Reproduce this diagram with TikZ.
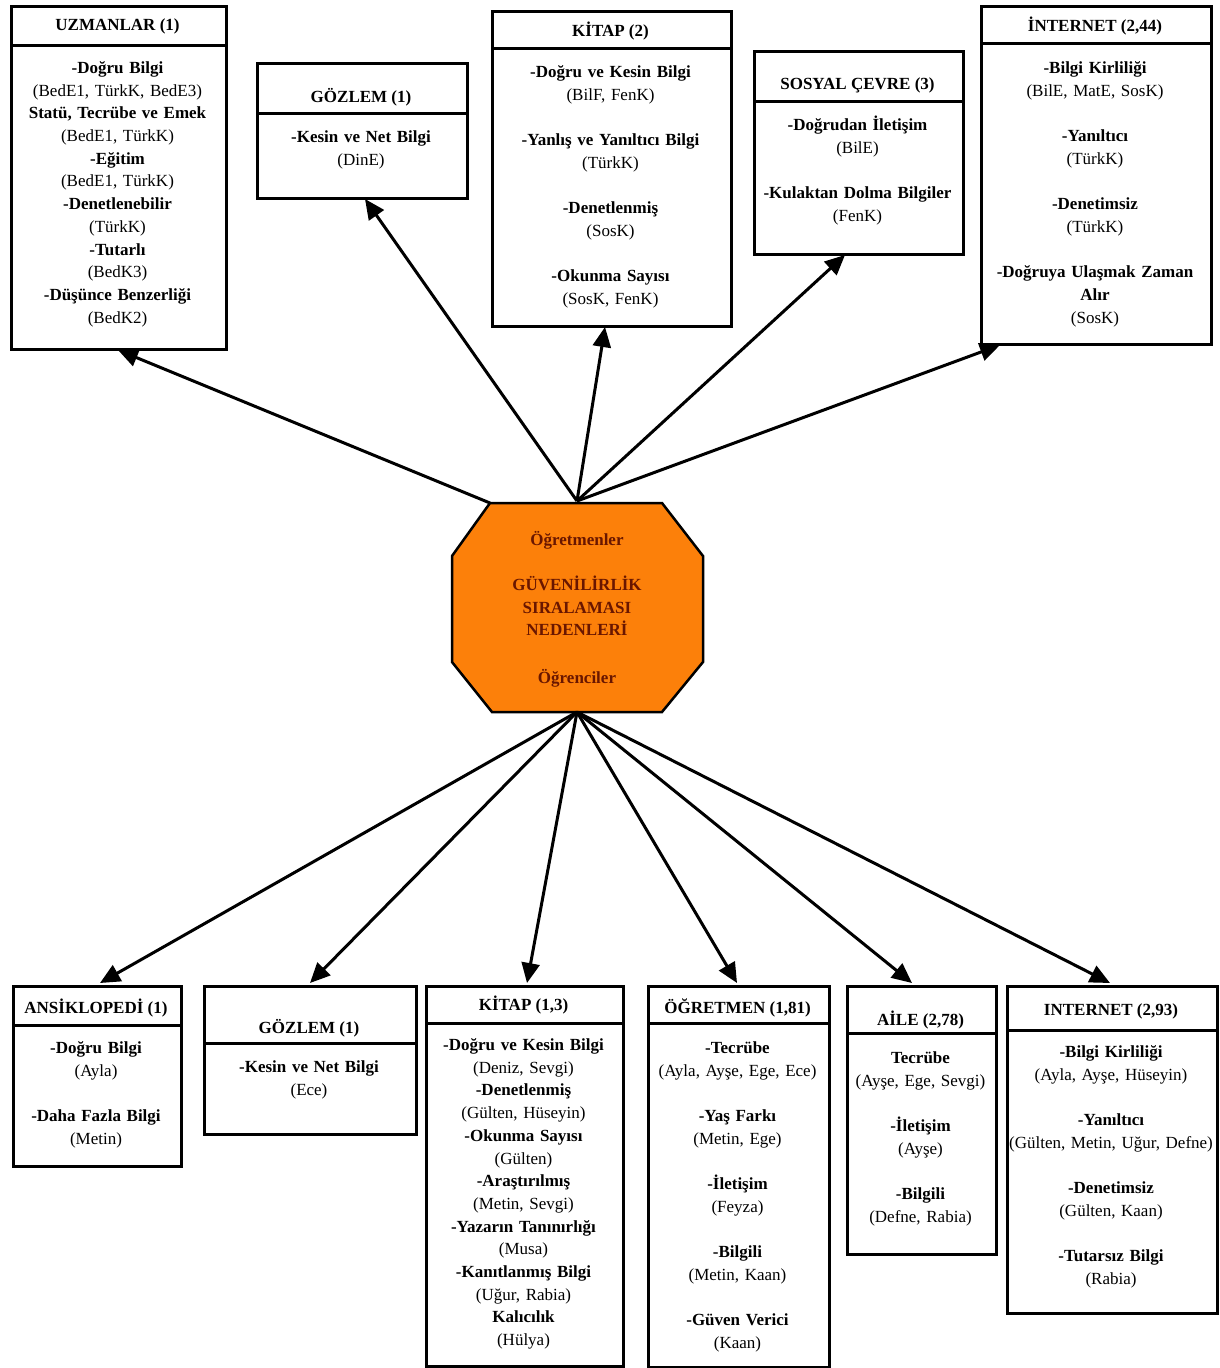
\documentclass[tikz,border=0pt]{standalone}
\usepackage{fontspec}
\setmainfont{Liberation Serif}
\usetikzlibrary{arrows.meta}
\definecolor{octorange}{RGB}{252,128,10}
\definecolor{octtext}{RGB}{105,22,0}
\newcommand{\tl}[1]{\textbf{#1}}
\frenchspacing
\begin{document}
\begin{tikzpicture}[x=1pt,y=-1pt,
  frame/.style={draw, line width=3pt, inner sep=0pt, anchor=north west},
  divider/.style={line width=3pt},
  hdr/.style={font=\fontsize{17}{22.7}\selectfont\bfseries, inner sep=0pt},
  body/.style={font=\fontsize{17}{22.7}\selectfont, align=center, inner sep=0pt, anchor=north},
  conn/.style={line width=3pt, -{Triangle[length=20pt,width=18pt]}},
  octo/.style={draw, line width=2.5pt, fill=octorange},
  ctext/.style={font=\fontsize{17}{22.7}\selectfont\bfseries, text=octtext, align=center, inner sep=0pt, anchor=north}
]
\useasboundingbox (0,0) rectangle (1219,1368);
\fill[white] (0,0) rectangle (1219,1368);

% ---------- top boxes ----------
\node[frame, minimum width=215pt, minimum height=343pt] (U) at (10,5) {};
\draw[divider] (10,45) -- (225,45);
\node[hdr] (Uh) at (117.5,26) {UZMANLAR (1)};
\node[body, text width=207pt] (Ub) at (117.5,57.4) {\strut\tl{-Doğru Bilgi}\\(BedE1, TürkK, BedE3)\\\tl{Statü, Tecrübe ve Emek}\\(BedE1, TürkK)\\\tl{-Eğitim}\\(BedE1, TürkK)\\\tl{-Denetlenebilir}\\(TürkK)\\\tl{-Tutarlı}\\(BedK3)\\\tl{-Düşünce Benzerliği}\\(BedK2)};

\node[frame, minimum width=210pt, minimum height=135pt] (G1) at (256,62) {};
\draw[divider] (256,113) -- (466,113);
\node[hdr] (G1h) at (361,97) {GÖZLEM (1)};
\node[body, text width=202pt] (G1b) at (361,126.4) {\strut\tl{-Kesin ve Net Bilgi}\\(DinE)};

\node[frame, minimum width=239pt, minimum height=315pt] (K1) at (491,10) {};
\draw[divider] (491,48) -- (730,48);
\node[hdr] (K1h) at (610.5,31) {KİTAP (2)};
\node[body, text width=231pt] (K1b) at (610.5,61.4) {\strut\tl{-Doğru ve Kesin Bilgi}\\(BilF, FenK)\\[22.7pt]\tl{-Yanlış ve Yanıltıcı Bilgi}\\(TürkK)\\[22.7pt]\tl{-Denetlenmiş}\\(SosK)\\[22.7pt]\tl{-Okunma Sayısı}\\(SosK, FenK)};

\node[frame, minimum width=209pt, minimum height=203pt] (S) at (753,50) {};
\draw[divider] (753,101) -- (962,101);
\node[hdr] (Sh) at (857.5,85) {SOSYAL ÇEVRE (3)};
\node[body, text width=201pt] (Sb) at (857.5,114.4) {\strut\tl{-Doğrudan İletişim}\\(BilE)\\[22.7pt]\tl{-Kulaktan Dolma Bilgiler}\\(FenK)};

\node[frame, minimum width=230pt, minimum height=338pt] (I1) at (980,5) {};
\draw[divider] (980,43) -- (1210,43);
\node[hdr] (I1h) at (1095,26) {İNTERNET (2,44)};
\node[body, text width=222pt] (I1b) at (1095,57.4) {\strut\tl{-Bilgi Kirliliği}\\(BilE, MatE, SosK)\\[22.7pt]\tl{-Yanıltıcı}\\(TürkK)\\[22.7pt]\tl{-Denetimsiz}\\(TürkK)\\[22.7pt]\tl{-Doğruya Ulaşmak Zaman}\\\tl{Alır}\\(SosK)};

% ---------- centre ----------
\draw[octo] (490,503) -- (662,503) -- (703,556) -- (703,662) -- (662,712) -- (492,712) -- (452,662) -- (452,556) -- cycle;
\node[ctext] (oc) at (577,529.4) {\strut Öğretmenler\\[22.3pt]GÜVENİLİRLİK\\SIRALAMASI\\NEDENLERİ\\[25pt]Öğrenciler};
\coordinate (otl) at (490,503);
\coordinate (ot) at (577,501);
\coordinate (ob) at (577,712);

% ---------- bottom boxes ----------
\node[frame, minimum width=168pt, minimum height=180pt] (A) at (12,985) {};
\draw[divider] (12,1025) -- (180,1025);
\node[hdr] (Ah) at (96,1008) {ANSİKLOPEDİ (1)};
\node[body, text width=160pt] (Ab) at (96,1037.4) {\strut\tl{-Doğru Bilgi}\\(Ayla)\\[22.7pt]\tl{-Daha Fazla Bilgi}\\(Metin)};

\node[frame, minimum width=212pt, minimum height=148pt] (G2) at (203,985) {};
\draw[divider] (203,1043) -- (415,1043);
\node[hdr] (G2h) at (309,1028) {GÖZLEM (1)};
\node[body, text width=204pt] (G2b) at (309,1056.4) {\strut\tl{-Kesin ve Net Bilgi}\\(Ece)};

\node[frame, minimum width=197pt, minimum height=380pt] (K2) at (425,985) {};
\draw[divider] (425,1023) -- (622,1023);
\node[hdr] (K2h) at (523.5,1005) {KİTAP (1,3)};
\node[body, text width=189pt] (K2b) at (523.5,1034.4) {\strut\tl{-Doğru ve Kesin Bilgi}\\(Deniz, Sevgi)\\\tl{-Denetlenmiş}\\(Gülten, Hüseyin)\\\tl{-Okunma Sayısı}\\(Gülten)\\\tl{-Araştırılmış}\\(Metin, Sevgi)\\\tl{-Yazarın Tanınırlığı}\\(Musa)\\\tl{-Kanıtlanmış Bilgi}\\(Uğur, Rabia)\\\tl{Kalıcılık}\\(Hülya)};

\node[frame, minimum width=181pt, minimum height=381pt] (O) at (647,985) {};
\draw[divider] (647,1023) -- (828,1023);
\node[hdr] (Oh) at (737.5,1008) {ÖĞRETMEN (1,81)};
\node[body, text width=175pt] (Ob) at (737.5,1037.4) {\strut\tl{-Tecrübe}\\(Ayla, Ayşe, Ege, Ece)\\[22.7pt]\tl{-Yaş Farkı}\\(Metin, Ege)\\[22.7pt]\tl{-İletişim}\\(Feyza)\\[22.7pt]\tl{-Bilgili}\\(Metin, Kaan)\\[22.7pt]\tl{-Güven Verici}\\(Kaan)};

\node[frame, minimum width=149pt, minimum height=268pt] (AI) at (846,985) {};
\draw[divider] (846,1033) -- (995,1033);
\node[hdr] (AIh) at (920.5,1020) {AİLE (2,78)};
\node[body, text width=143pt] (AIb) at (920.5,1047.4) {\strut\tl{Tecrübe}\\(Ayşe, Ege, Sevgi)\\[22.7pt]\tl{-İletişim}\\(Ayşe)\\[22.7pt]\tl{-Bilgili}\\(Defne, Rabia)};

\node[frame, minimum width=210pt, minimum height=327pt] (I2) at (1006,985) {};
\draw[divider] (1006,1030) -- (1216,1030);
\node[hdr] (I2h) at (1111,1011) {INTERNET (2,93)};
\node[body, text width=206pt] (I2b) at (1111,1041.4) {\strut\tl{-Bilgi Kirliliği}\\(Ayla, Ayşe, Hüseyin)\\[22.7pt]\tl{-Yanıltıcı}\\(Gülten, Metin, Uğur, Defne)\\[22.7pt]\tl{-Denetimsiz}\\(Gülten, Kaan)\\[22.7pt]\tl{-Tutarsız Bilgi}\\(Rabia)};

% ---------- arrow tips ----------
\coordinate (tU) at (118,350);
\coordinate (tG1) at (365,199);
\coordinate (tK1) at (605,327);
\coordinate (tS) at (845,255);
\coordinate (tI1) at (1000,345);
\coordinate (tA) at (100,983);
\coordinate (tG2) at (310,983);
\coordinate (tK2) at (527,983);
\coordinate (tO) at (737,983);
\coordinate (tAI) at (912,983);
\coordinate (tI2) at (1110,983);

\draw[conn] (otl) -- (tU);
\draw[conn] (ot) -- (tG1);
\draw[conn] (ot) -- (tK1);
\draw[conn] (ot) -- (tS);
\draw[conn] (ot) -- (tI1);
\draw[conn] (ob) -- (tA);
\draw[conn] (ob) -- (tG2);
\draw[conn] (ob) -- (tK2);
\draw[conn] (ob) -- (tO);
\draw[conn] (ob) -- (tAI);
\draw[conn] (ob) -- (tI2);
\end{tikzpicture}
\end{document}
